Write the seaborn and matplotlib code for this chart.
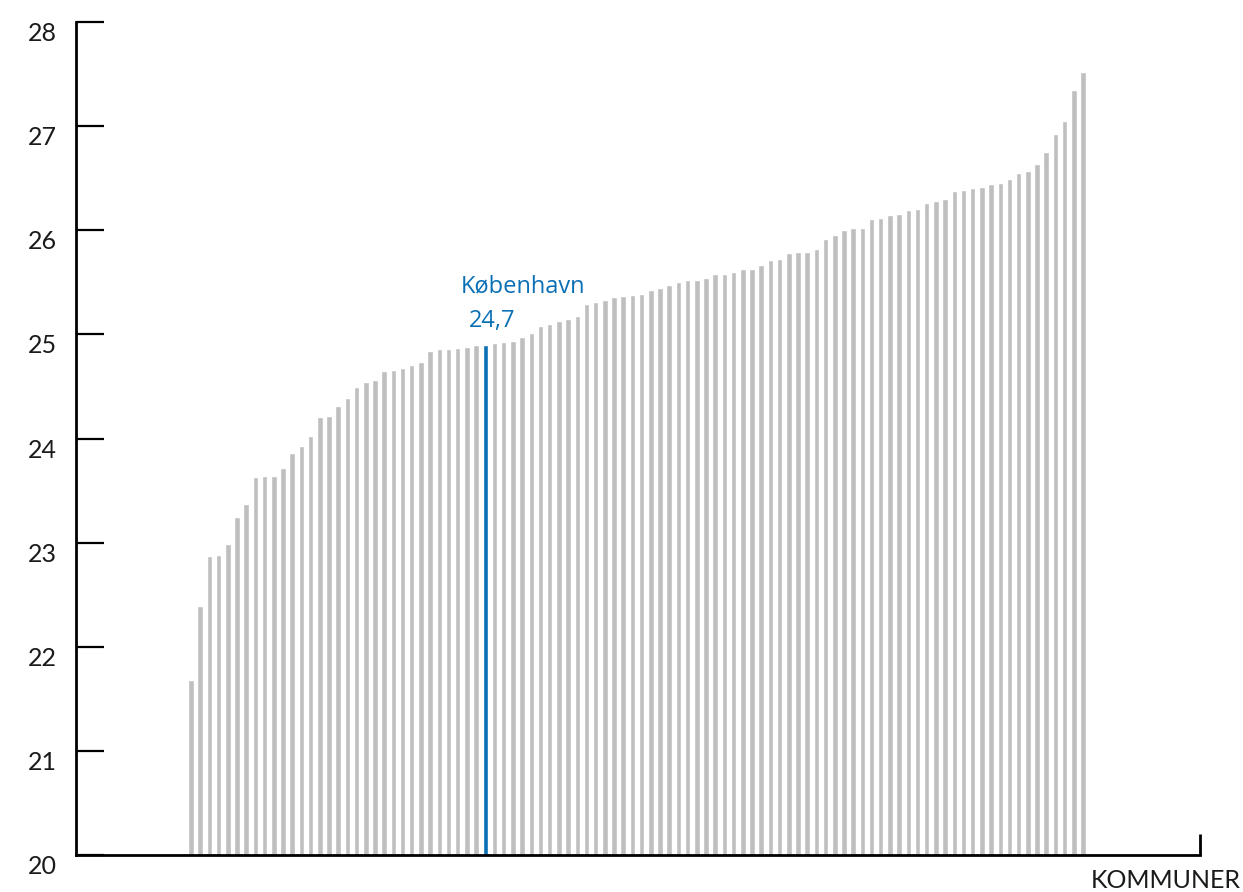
import matplotlib
matplotlib.use("Agg")
import matplotlib.pyplot as plt
import seaborn as sns
import pandas as pd
import numpy as np

# ---- data ----
values = [
    21.68, 22.39, 22.87, 22.88, 22.99, 23.25, 23.37, 23.63, 23.64, 23.64,
    23.72, 23.86, 23.93, 24.02, 24.21, 24.22, 24.31, 24.39, 24.49, 24.54,
    24.56, 24.65, 24.66, 24.68, 24.71, 24.73, 24.84, 24.86, 24.86, 24.87,
    24.88, 24.90, 24.90, 24.92, 24.93, 24.94, 24.97, 25.01, 25.08, 25.10,
    25.13, 25.15, 25.18, 25.29, 25.31, 25.33, 25.36, 25.37, 25.38, 25.39,
    25.43, 25.45, 25.47, 25.50, 25.52, 25.52, 25.54, 25.58, 25.58, 25.60,
    25.63, 25.63, 25.67, 25.71, 25.72, 25.78, 25.79, 25.79, 25.82, 25.92,
    25.95, 26.00, 26.02, 26.02, 26.11, 26.12, 26.15, 26.16, 26.19, 26.20,
    26.26, 26.28, 26.30, 26.38, 26.39, 26.41, 26.42, 26.44, 26.45, 26.49,
    26.55, 26.57, 26.64, 26.75, 26.92, 27.05, 27.35, 27.52,
]
highlight_index = 32
highlight_name = "København"
highlight_label = "24,7"
y_ticks = [20, 21, 22, 23, 24, 25, 26, 27, 28]
x_axis_title = "KOMMUNER"

GREY = "#bfbfbf"
BLUE = "#0a70b5"
TEXT = "#1a1a1a"

df = pd.DataFrame({
    "kommune": np.arange(len(values)),
    "value": values,
    "group": ["kbh" if i == highlight_index else "other" for i in range(len(values))],
})

sns.set_theme(style="white")
plt.rcParams["font.family"] = ["Lato", "DejaVu Sans"]

fig = plt.figure(figsize=(12.43, 8.92), dpi=100)
ax = fig.add_axes([76 / 1243, 1 - 855 / 892, (1200 - 76) / 1243, (855 - 22) / 892])

sns.barplot(data=df, x="kommune", y="value", hue="group",
            palette={"other": GREY, "kbh": BLUE}, dodge=False,
            width=0.6, legend=False, ax=ax, saturation=1)

ax.set_ylim(20, 28)
ax.set_xlim(-12.51, 109.72)
ax.set_yticks(y_ticks)
ax.set_yticklabels([str(t) for t in y_ticks], fontsize=18, fontweight="normal",
                   color=TEXT, va="top")
ax.set_xticks([])
ax.set_xlabel("")
ax.set_ylabel("")

ax.tick_params(axis="y", direction="in", length=20, width=1.6, color="black",
               labelcolor=TEXT, pad=14, left=True)
for s in ["top", "right"]:
    ax.spines[s].set_visible(False)
for s in ["left", "bottom"]:
    ax.spines[s].set_color("black")
    ax.spines[s].set_linewidth(2.0)

# small upward end mark of x-axis
ax.plot([1, 1], [0, 0.025], transform=ax.transAxes, color="black",
        lw=2.0, clip_on=False, solid_capstyle="butt")

# highlight annotation
hv = values[highlight_index]
ax.annotate(highlight_name, xy=(highlight_index, hv), xytext=(-18, 38),
            textcoords="offset points", ha="left", va="baseline",
            fontsize=17, color=BLUE, family=["Open Sans", "DejaVu Sans"])
ax.annotate(highlight_label, xy=(highlight_index, hv), xytext=(-12, 13),
            textcoords="offset points", ha="left", va="baseline",
            fontsize=17, color=BLUE, family=["Open Sans", "DejaVu Sans"])

fig.text(0.9985, 1 - 880 / 892, x_axis_title, ha="right", va="center",
         fontsize=18, fontweight="normal", color=TEXT)

fig.savefig("out.png", dpi=100)
